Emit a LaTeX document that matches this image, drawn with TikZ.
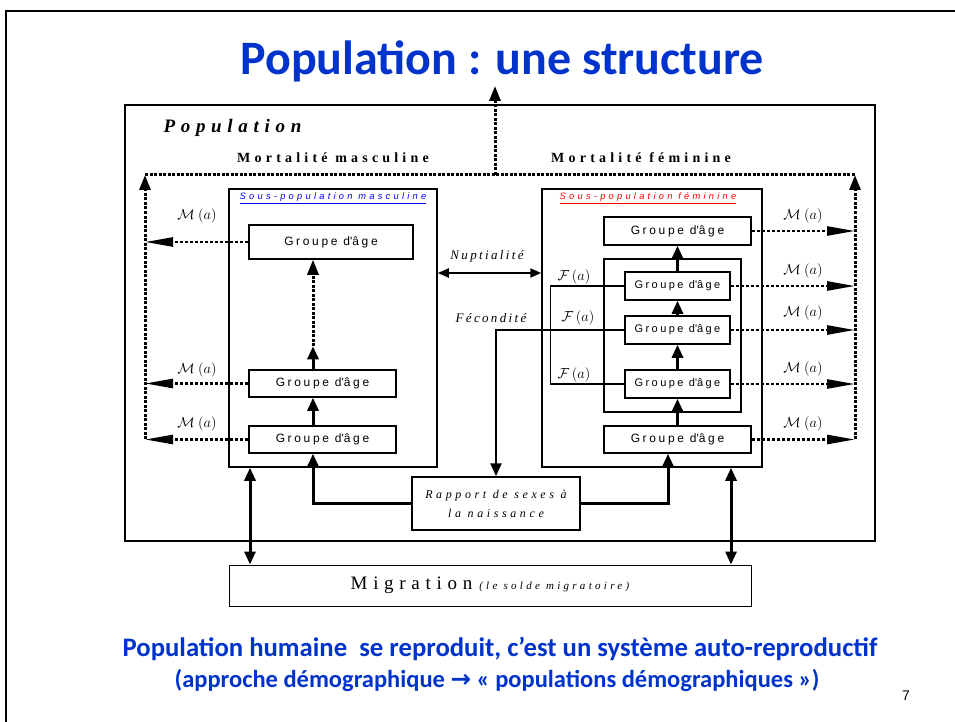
\documentclass[tikz,border=0pt]{standalone}
\usepackage{fontspec}
\setmainfont{Liberation Serif}
\newfontfamily\calib{Carlito}
\newfontfamily\symb{DejaVu Sans}
\newfontfamily\grpfont[LetterSpace=22]{Liberation Sans}
\newfontfamily\spserif[LetterSpace=30]{Liberation Serif}
\newfontfamily\lightserif[LetterSpace=18]{Liberation Serif}
\newfontfamily\spsans[LetterSpace=35]{Liberation Sans}
\usetikzlibrary{arrows.meta}
\definecolor{titleblue}{RGB}{0,51,204}
\newcommand\grptxt{Groupe d\textquotesingle âge}
\tikzset{
  plainbox/.style={draw, line width=1.5pt, inner sep=0pt},
  agebox/.style={plainbox, font=\grpfont\fontsize{12}{14}\selectfont},
  smallage/.style={plainbox, minimum width=105pt, minimum height=28pt,
    font=\grpfont\fontsize{11}{13}\selectfont},
  flowarr/.style={line width=3pt, -{Triangle[length=13pt,width=11pt]}},
  twoway/.style={line width=3pt,
    {Triangle[length=13pt,width=11pt]}-{Triangle[length=13pt,width=11pt]}},
  mortline/.style={line width=3pt, dash pattern=on 3pt off 1.5pt},
  mortup/.style={mortline, -{Triangle[length=15pt,width=11pt]}},
  mort/.style={line width=2.5pt, dash pattern=on 3pt off 2pt,
    -{Triangle[length=28pt,width=9pt]}},
  lbl/.style={font=\fontsize{14}{16}\selectfont},
  spaced/.style={font=\lightserif\itshape\fontsize{13}{15}\selectfont},
  slidetext/.style={font=\calib\bfseries, text=titleblue},
}
\begin{document}
\begin{tikzpicture}[x=1pt,y=-1pt]
\useasboundingbox (0,0) rectangle (955,722);
\draw[line width=1.5pt] (6,722) -- (6,11) -- (955,11);
\node[font=\calib\bfseries\fontsize{48}{56}\selectfont, text=titleblue] (title) at (502,61) {Population : une structure};

\node[plainbox, minimum width=750pt, minimum height=436pt] (pop) at (500,323) {};
\node[font=\spserif\bfseries\itshape\fontsize{19}{22}\selectfont, anchor=west] (poplbl) at (160,128) {Population};
\node[font=\spserif\bfseries\fontsize{14}{16}\selectfont] (mortm) at (333,158) {Mortalité masculine};
\node[font=\spserif\bfseries\fontsize{14}{16}\selectfont] (mortf) at (641,158) {Mortalité féminine};

\begin{scope}
  \node[plainbox, minimum width=208pt, minimum height=278pt] (masc) at (333,328) {};
  \node[font=\spsans\itshape\fontsize{9.3}{11}\selectfont, text=blue] (masclbl) at (333,198) {\underline{Sous-population masculine}};
  \node[agebox, minimum width=164pt, minimum height=34pt] (m1) at (331,242) {\grptxt};
  \node[agebox, minimum width=147pt, minimum height=27pt] (m2) at (322.5,383.5) {\grptxt};
  \node[agebox, minimum width=147pt, minimum height=27pt] (m3) at (322.5,439.5) {\grptxt};
\end{scope}

\begin{scope}
  \node[plainbox, minimum width=220pt, minimum height=278pt] (fem) at (652,328) {};
  \node[font=\spsans\itshape\fontsize{9.3}{11}\selectfont, text=red] (femlbl) at (648,198) {\underline{Sous-population féminine}};
  \node[plainbox, minimum width=137pt, minimum height=153pt] (inner) at (672.5,335.5) {};
  \node[agebox, minimum width=147pt, minimum height=28pt] (f1) at (677.5,231) {\grptxt};
  \node[smallage] (f2) at (677.5,286) {\grptxt};
  \node[smallage] (f3) at (677.5,330) {\grptxt};
  \node[smallage] (f4) at (677.5,384) {\grptxt};
  \node[agebox, minimum width=147pt, minimum height=27pt] (f5) at (677.5,439.5) {\grptxt};
\end{scope}

\node[plainbox, minimum width=168pt, minimum height=53pt, align=center,
  font=\spserif\itshape\fontsize{12}{19}\selectfont] (rap) at (496,503.5) {Rapport de sexes à\\la naissance};
\node[plainbox, line width=1pt, minimum width=522pt, minimum height=41pt] (mig) at (490,585.5)
  {{\spserif\fontsize{19}{21}\selectfont Migration}\hspace{7pt}{\spserif\itshape\fontsize{11}{13}\selectfont (le solde migratoire)}};

\coordinate (tl) at (145,175);
\coordinate (tr) at (855,175);
\coordinate (tc) at (495,175);
\coordinate (tt) at (495,86);
\coordinate (bl) at (145,439);
\coordinate (br) at (855,439);
\draw[mortline] (tl) -- (tr);
\draw[mortup] (bl) -- (tl);
\draw[mortup] (br) -- (tr);
\draw[mortup] (tc) -- (tt);
\foreach \g in {m1,m2,m3}
  \draw[mort] (\g.west) -- (\g.west -| tl);
\foreach \g in {f1,f2,f3,f4,f5}
  \draw[mort] (\g.east) -- (\g.east -| tr);
\foreach \y [count=\i] in {216,370,424}
  \node[lbl] (mal\i) at (197,\y) {$\mathcal{M}\ (a)$};
\foreach \y [count=\i] in {216,271,313,369,424}
  \node[lbl] (mar\i) at (803,\y) {$\mathcal{M}\ (a)$};

\coordinate (mx) at (313,0);
\draw[flowarr] (m3.north -| mx) -- (m2.south -| mx);
\draw[flowarr] (m2.north -| mx) -- ++(0,-23) coordinate (mmid);
\draw[mortup] (mmid) -- (m1.south -| mx);
\draw[flowarr] (f5.north) -- (f4.south);
\draw[flowarr] (f4.north) -- (f3.south);
\draw[flowarr] (f3.north) -- (f2.south);
\draw[flowarr] (f2.north) -- (f1.south);

\coordinate (fx) at (668,0);
\draw[flowarr] (rap.west) -| (m3.south -| mx);
\draw[flowarr] (rap.east) -| (f5.south -| fx);

\draw[line width=1.2pt] (f2.west) -- ++(-74,0) |- (f4.west);
\draw[line width=2.5pt, -{Triangle[length=13pt,width=11pt]}] (f3.west) -| (rap.north);
\node[lbl] (fa1) at (574,277) {$\mathcal{F}\,(a)$};
\node[lbl] (fa2) at (578,318) {$\mathcal{F}\,(a)$};
\node[lbl] (fa3) at (574,375) {$\mathcal{F}\,(a)$};

\coordinate (ny) at (0,273);
\draw[line width=2pt, {Triangle[length=11pt,width=9pt]}-{Triangle[length=11pt,width=9pt]}]
  (masc.east |- ny) -- (fem.west |- ny);
\node[spaced] (nup) at (487,256) {Nuptialité};
\node[spaced] (fec) at (491,318) {Fécondité};

\coordinate (gl) at (250,0);
\coordinate (gr) at (731,0);
\draw[twoway] (mig.north -| gl) -- (masc.south -| gl);
\draw[twoway] (mig.north -| gr) -- (fem.south -| gr);

\node[slidetext] (concl) at (500,649)
  {\fontsize{26.7}{30}\selectfont Population humaine\ \ se reproduit, c’est un système auto-reproductif};
\node[slidetext] (concl2) at (497,680)
  {\fontsize{24.5}{28}\selectfont (approche démographique {\symb\bfseries →} « populations démographiques »)};
\node[font=\fontspec{Liberation Sans}\fontsize{14}{16}\selectfont] (pnum) at (906,696) {7};
\end{tikzpicture}
\end{document}
